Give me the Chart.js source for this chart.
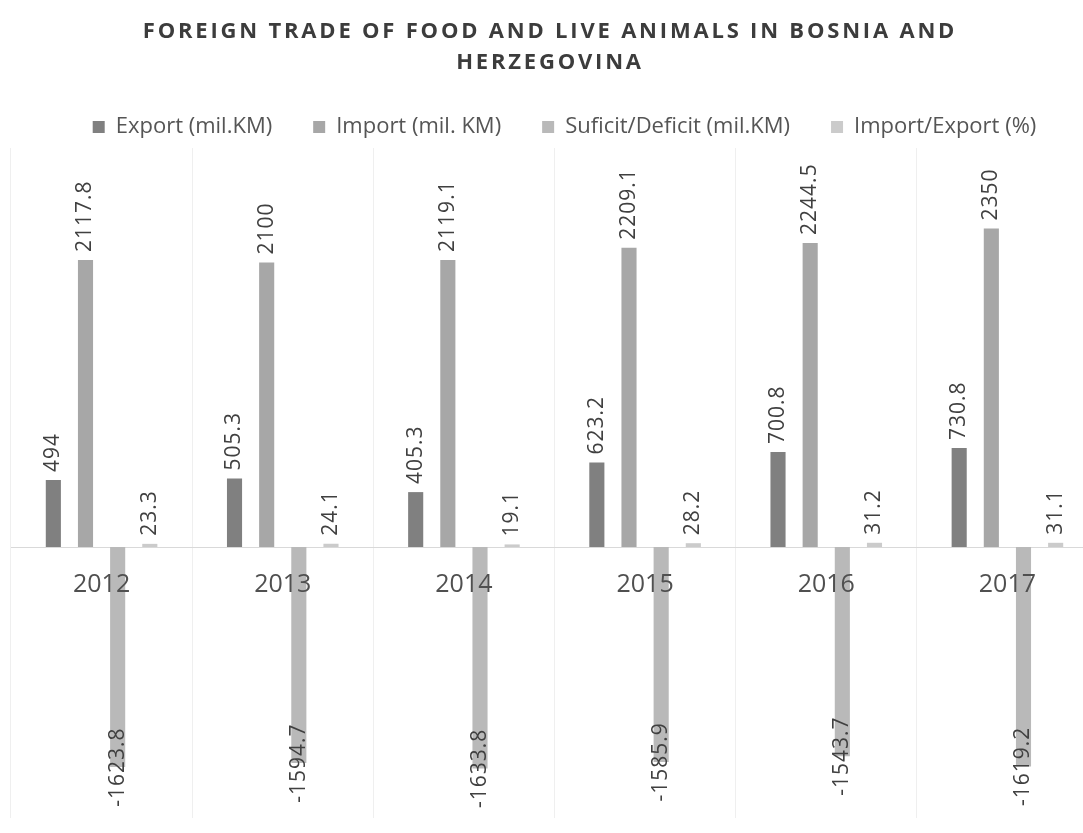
<!DOCTYPE html>
<html>
<head>
<meta charset="utf-8">
<script src="https://cdn.jsdelivr.net/npm/chart.js@4"></script>
<style>
  html, body { margin: 0; padding: 0; background: #fff; overflow: hidden; }
  #wrap { position: absolute; left: 0; top: 0; width: 1100px; height: 833px; }
  #title {
    position: absolute; left: 0; top: 14px; width: 1100px;
    text-align: center; font-family: "Open Sans", sans-serif; font-weight: 700;
    font-size: 22px; letter-spacing: 2.8px; line-height: 31px; color: #3c3c3c;
  }
</style>
</head>
<body>
<div id="wrap">
  <canvas id="chart"></canvas>
</div>
<div id="title">FOREIGN TRADE OF FOOD AND LIVE ANIMALS IN BOSNIA AND<br>HERZEGOVINA</div>
<script>
const years = ['2012', '2013', '2014', '2015', '2016', '2017'];
const exportVals = [494, 505.3, 405.3, 623.2, 700.8, 730.8];
const importVals = [2117.8, 2100, 2119.1, 2209.1, 2244.5, 2350];
const balanceVals = [-1623.8, -1594.7, -1633.8, -1585.9, -1543.7, -1619.2];
const ratioVals = [23.3, 24.1, 19.1, 28.2, 31.2, 31.1];

const seriesNames = ['Export (mil.KM)', 'Import (mil. KM)', 'Suficit/Deficit (mil.KM)', 'Import/Export (%)'];
const seriesColors = ['#808080', '#a7a7a7', '#b9b9b9', '#cbcbcb'];

// value labels, rotated like the original
const valueLabels = {
  id: 'valueLabels',
  afterDatasetsDraw(chart) {
    const ctx = chart.ctx;
    ctx.save();
    ctx.font = '21px "Open Sans"';
    ctx.fillStyle = '#404040';
    ctx.textBaseline = 'middle';
    ctx.letterSpacing = '1px';
    chart.data.datasets.forEach((ds, di) => {
      const meta = chart.getDatasetMeta(di);
      meta.data.forEach((bar, i) => {
        const v = ds.data[i];
        ctx.save();
        ctx.translate(bar.x, v >= 0 ? bar.y - 8 : bar.y);
        ctx.rotate(-Math.PI / 2);
        ctx.textAlign = v >= 0 ? 'left' : 'center';
        ctx.fillText(String(v), 0, 0);
        ctx.restore();
      });
    });
    ctx.restore();
  }
};

// category labels sit just under the zero line
const yearLabels = {
  id: 'yearLabels',
  afterDatasetsDraw(chart) {
    const ctx = chart.ctx;
    const xs = chart.scales.x;
    const y0 = chart.scales.y.getPixelForValue(0);
    ctx.save();
    ctx.font = '25px "Open Sans"';
    ctx.fillStyle = '#505050';
    ctx.textAlign = 'center';
    ctx.textBaseline = 'middle';
    years.forEach((yr, i) => {
      ctx.fillText(yr, xs.getPixelForValue(i), y0 + 38);
    });
    ctx.restore();
  }
};

// the legend in the original sits a little right of centre
const legendShift = {
  id: 'legendShift',
  afterLayout(chart) {
    chart.legend.left += 10;
    chart.legend.right += 10;
  }
};

const ctx = document.getElementById('chart').getContext('2d');
new Chart(ctx, {
  type: 'bar',
  data: {
    labels: years,
    datasets: [exportVals, importVals, balanceVals, ratioVals].map((vals, k) => ({
      label: seriesNames[k],
      data: vals,
      backgroundColor: seriesColors[k],
      categoryPercentage: 0.71,
      barPercentage: 0.47
    }))
  },
  options: {
    responsive: true,
    maintainAspectRatio: false,
    animation: false,
    layout: { padding: { top: 75, left: 11, right: 2, bottom: 15 } },
    plugins: {
      title: { display: false },
      tooltip: { enabled: false },
      legend: {
        position: 'top',
        labels: {
          boxWidth: 12,
          boxHeight: 12,
          padding: 41,
          color: '#555',
          font: { family: 'Open Sans', size: 22 }
        }
      }
    },
    scales: {
      x: {
        position: { y: 0 },
        ticks: { display: false },
        grid: { offset: true, color: '#efefef', drawTicks: false },
        border: { color: '#d9d9d9' }
      },
      y: {
        display: false,
        min: -2000,
        max: 2945
      }
    }
  },
  plugins: [valueLabels, yearLabels, legendShift]
});
</script>
</body>
</html>
